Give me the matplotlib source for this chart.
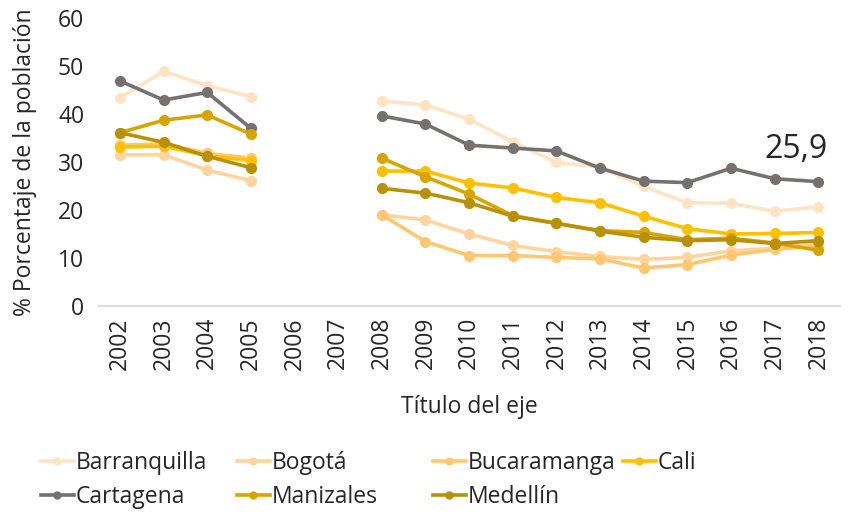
import numpy as np
import matplotlib
matplotlib.use("Agg")
import matplotlib.pyplot as plt

plt.rcParams['font.family'] = ['Open Sans', 'DejaVu Sans']

years = [str(y) for y in range(2002, 2019)]
nan = np.nan

barranquilla = [43.4, 48.9, 45.9, 43.6, nan, nan, 42.7, 41.9, 38.9, 34.2, 29.9, 28.9, 24.9, 21.5, 21.4, 19.7, 20.7]
bogota = [31.5, 31.5, 28.3, 26.1, nan, nan, 19.0, 17.9, 15.0, 12.6, 11.3, 10.3, 9.7, 10.1, 11.5, 12.0, 13.0]
bucaramanga = [33.5, 33.8, 31.8, 30.8, nan, nan, 19.0, 13.4, 10.5, 10.5, 10.1, 9.8, 7.9, 8.6, 10.6, 11.8, 12.5]
cali = [33.1, 33.3, 31.3, 30.3, nan, nan, 28.1, 28.1, 25.6, 24.6, 22.6, 21.5, 18.7, 16.1, 15.0, 15.1, 15.3]
cartagena = [46.9, 42.9, 44.5, 37.0, nan, nan, 39.6, 37.9, 33.5, 32.9, 32.3, 28.7, 26.0, 25.7, 28.7, 26.5, 25.9]
manizales = [36.1, 38.7, 39.8, 35.8, nan, nan, 30.8, 26.9, 23.3, 18.8, 17.2, 15.7, 15.3, 13.8, 14.1, 13.1, 11.6]
medellin = [36.1, 34.1, 31.2, 28.8, nan, nan, 24.5, 23.5, 21.5, 18.7, 17.2, 15.6, 14.3, 13.6, 13.8, 13.0, 13.6]

names = ['Barranquilla', 'Bogotá', 'Bucaramanga', 'Cali', 'Cartagena', 'Manizales', 'Medellín']
series = [barranquilla, bogota, bucaramanga, cali, cartagena, manizales, medellin]
colors = ['#FFE4C4', '#FFD59E', '#FFC870', '#FFC000', '#767171', '#D9A400', '#B8900A']

fig = plt.figure(figsize=(8.53, 5.15), dpi=100)
ax = fig.add_axes([0.115, 0.406, 0.87, 0.559])

x = np.arange(len(years))
lines = {}
for name, vals, c in zip(names, series, colors):
    ln, = ax.plot(x, vals, color=c, lw=2.6, marker='o', ms=7,
                  solid_joinstyle='round', solid_capstyle='round', label=name)
    lines[name] = ln

# data label for Cartagena 2018
ax.annotate('25,9', (x[-1], cartagena[-1]), xytext=(-16, 11), textcoords='offset points',
            ha='center', va='bottom', fontsize=23, color='#262626')

ax.set_xlim(-0.5, len(years) - 0.5)
ax.set_ylim(0, 60)
ax.set_yticks(range(0, 61, 10))
ax.set_xticks(x)
ax.set_xticklabels(years, rotation=90)
ax.tick_params(axis='both', length=0, labelsize=16.5, colors='#262626')
ax.tick_params(axis='y', pad=10)
ax.tick_params(axis='x', pad=8)
for s in ['top', 'right', 'left']:
    ax.spines[s].set_visible(False)
ax.spines['bottom'].set_color('#D9D9D9')
ax.spines['bottom'].set_linewidth(1.2)

ax.set_xlabel('Título del eje', fontsize=16.5, color='#262626')
ax.set_ylabel('% Porcentaje de la población', fontsize=16.5, color='#262626')
ax.yaxis.set_label_coords(-0.082, 0.5)
ax.xaxis.set_label_coords(0.5, -0.31)

# legend laid out in columns, like the original
columns = [['Barranquilla', 'Cartagena'], ['Bogotá', 'Manizales'],
           ['Bucaramanga', 'Medellín'], ['Cali']]
col_x = [30, 226, 422, 612]
for cx, col in zip(col_x, columns):
    handles = [plt.Line2D([], [], color=lines[n].get_color(), lw=2.6, marker='o', ms=5) for n in col]
    fig.legend(handles, col, loc='upper left', bbox_to_anchor=(cx / 853, 1 - 440 / 515),
               frameon=False, fontsize=16.5, handlelength=1.4, handletextpad=0.1,
               labelspacing=0.42, borderpad=0, labelcolor='#262626')

fig.savefig('out.png', dpi=100)
